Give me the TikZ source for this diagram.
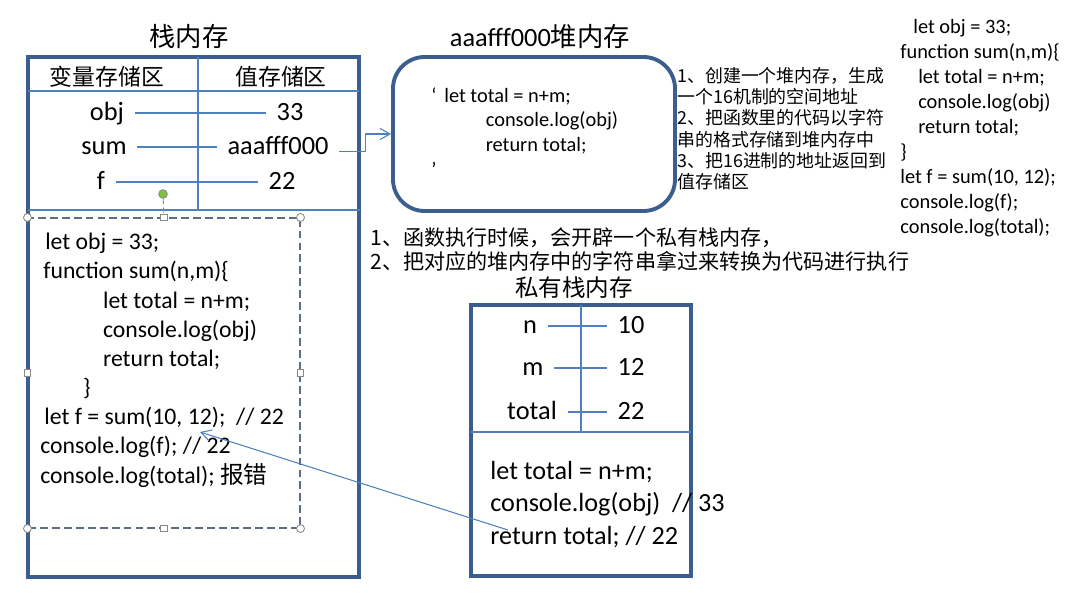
\documentclass[tikz,border=0pt]{standalone}
\usepackage{fontspec}
\setmainfont{Carlito}
\newfontfamily\cjk{Noto Sans CJK SC}
\usetikzlibrary{positioning, calc, fit, arrows.meta}
\definecolor{frameblue}{HTML}{3C5E8E}
\definecolor{wireblue}{HTML}{4F81BD}
\definecolor{selgray}{HTML}{5E6C84}
\definecolor{handlegray}{HTML}{8A8A8A}
\definecolor{rotgreen}{HTML}{7CC440}

\begin{document}
\begin{tikzpicture}[
        x=0.02cm, y=-0.02cm,
        font=\fontsize{15}{18}\selectfont,
        memory/.style={draw=frameblue, line width=2.2pt, inner sep=0pt},
        heapbox/.style={memory, rounded corners=18pt},
        wire/.style={draw=wireblue, line width=0.6pt},
        link/.style={wire, -{Straight Barb[length=5.7pt, width=6.4pt]}},
        cell/.style={text height=8pt, text depth=0pt, inner xsep=6pt, inner ysep=0pt},
        head/.style={font=\cjk\fontsize{13}{16}\selectfont},
        code/.style={align=left, anchor=north west, inner sep=0pt},
        note/.style={align=left, anchor=north west, inner sep=0pt},
        selection/.style={draw=selgray, dash pattern=on 4.5pt off 2.3pt, line width=0.6pt, inner sep=0pt},
        corner/.style={circle, draw=handlegray, fill=white, line width=0.5pt, inner sep=0pt, minimum size=4.5pt},
        side/.style={rectangle, draw=handlegray, fill=white, line width=0.5pt, inner sep=0pt, minimum size=3.8pt}
    ]
        \useasboundingbox (0,0) rectangle (1078,608);

        % Frames
        \node [selection, fit={(28,218) (300,528)}] (sel) {};
        \node [memory, fit={(28,57) (359,577)}] (stack) {};
        \node [heapbox, fit={(393,57) (675,211)}] (heap) {};
        \node [memory, fit={(471,305) (691,576)}] (private) {};

        \draw [wire] (28,91) -- (359,91);
        \draw [wire] (198,57) -- (198,210);
        \draw [wire] (28,210) -- (360,210);
        \draw [wire] (581,305) -- (581,432);
        \draw [wire] (471,432) -- (691,432);

        % Titles
        \node (stacktitle) at (189,37) {\cjk 栈内存};
        \node (heaptitle) at (540,37) {aaafff000{\cjk 堆内存}};
        \node [font=\cjk\fontsize{13.4}{16}\selectfont] (privatetitle) at (574,288) {私有栈内存};
        \node [head] (varhead) at (107,77) {变量存储区};
        \node [head] (valhead) at (281,77) {值存储区};

        % Stack cells
        \node [cell] (obj) at (107,113) {obj};
        \node [cell] (v33) at (290,113) {33};
        \node [cell] (sum) at (104,147) {sum};
        \node [cell] (vsum) at (278,147) {aaafff000};
        \node [cell] (f) at (101,182) {f};
        \node [cell] (v22) at (282,182) {22};

        % Private stack cells
        \node [cell] (n) at (530,326) {n};
        \node [cell] (v10) at (631,326) {10};
        \node [cell] (m) at (533,368) {m};
        \node [cell] (v12) at (631,368) {12};
        \node [cell] (total) at (532,412) {total};
        \node [cell] (vtotal) at (631,412) {22};

        % Code
        \node [code, font=\fontsize{13.5}{16.6}\selectfont] (maincode) at (40,233) {%
            \hspace*{2.8pt}let obj = 33;\\
            \hspace*{1.7pt}function sum(n,m)\{\\
            \hspace*{35.7pt}let total = n+m;\\
            \hspace*{35.7pt}console.log(obj)\\
            \hspace*{35.7pt}return total;\\
            \hspace*{24.4pt}\}\\
            \hspace*{2.3pt}let f = sum(10, 12);\ \ // 22\\
            console.log(f); // 22\\
            console.log(total); {\cjk 报错}};
        \node [code, font=\fontsize{11.6}{14.2}\selectfont] (heapcode) at (431,87) {%
            ‘\hspace{4.5pt}let total = n+m;\\
            \hspace*{31pt}console.log(obj)\\
            \hspace*{31pt}return total;\\
            ’};
        \node [code, font=\fontsize{11.6}{14.2}\selectfont] (sidecode) at (900,19) {%
            \hspace*{7.4pt}let obj = 33;\\
            function sum(n,m)\{\\
            \hspace*{10.2pt}let total = n+m;\\
            \hspace*{10.2pt}console.log(obj)\\
            \hspace*{10.2pt}return total;\\
            \}\\
            let f = sum(10, 12);\\
            console.log(f);\\
            console.log(total);};
        \node [code, font=\fontsize{14.9}{18.4}\selectfont] (pcode) at (490,461) {%
            let total = n+m;\\
            console.log(obj)\ \ // 33\\
            return total; // 22};

        % Notes
        \node [note, font=\cjk\fontsize{10.2}{12.1}\selectfont] (heapnote) at (677,67) {%
            1、创建一个堆内存，生成\\一个16机制的空间地址\\2、把函数里的代码以字符\\串的格式存储到堆内存中\\3、把16进制的地址返回到\\值存储区};
        \node [note, font=\cjk\fontsize{12}{14.1}\selectfont] (callnote) at (370,227) {%
            1、函数执行时候，会开辟一个私有栈内存，\\2、把对应的堆内存中的字符串拿过来转换为代码进行执行};

        % Handles
        \node [circle, draw=handlegray, fill=rotgreen, line width=0.5pt, inner sep=0pt, minimum size=4.9pt] (rot) at (163,194) {};
        \foreach \a/\n in {north west/nw, north east/ne, south west/sw, south east/se}
            \node [corner] (sel-\n) at (sel.\a) {};
        \foreach \a/\n in {north/n, south/s, west/w, east/e}
            \node [side] (sel-\n) at (sel.\a) {};
        \draw [handlegray, densely dashed, line width=0.5pt] (rot) -- (sel-n);

        % Edges
        \draw [wire] (obj) -- (v33);
        \draw [wire] (sum) -- (vsum);
        \draw [wire] (f) -- (v22);
        \draw [wire] (n) -- (v10);
        \draw [wire] (m) -- (v12);
        \draw [wire] (total) -- (vtotal);

        \draw [link] ([yshift=-2.3pt]vsum.east) -- ++(26,0) |- (heap.west);

        \coordinate (retline) at (508,530);
        \coordinate (callsite) at (200,432);
        \draw [link] (retline) -- (callsite);

    \end{tikzpicture}
\end{document}
